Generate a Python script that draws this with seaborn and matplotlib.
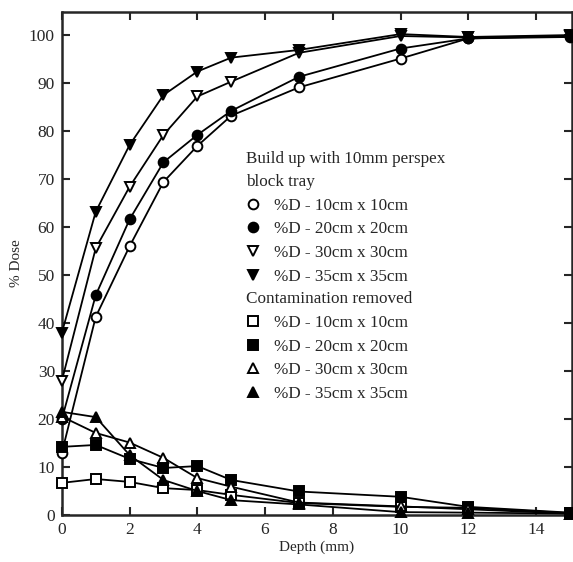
import matplotlib
matplotlib.use("Agg")
import matplotlib.pyplot as plt
import seaborn as sns

# depth (mm) at which doses were measured
depth = [0, 1, 2, 3, 4, 5, 7, 10, 12, 15]

# build up with 10mm perspex block tray
bu_10 = [13, 41.3, 56, 69.4, 76.9, 83.2, 89.1, 95.1, 99.3, 99.6]
bu_20 = [20, 45.8, 61.6, 73.5, 79.2, 84.2, 91.3, 97.2, 99.3, 99.8]
bu_30 = [28, 55.6, 68.4, 79.2, 87.2, 90.3, 96.3, 99.8, 99.5, 99.8]
bu_35 = [38, 63.2, 77.1, 87.5, 92.4, 95.3, 96.9, 100.2, 99.6, 100]

# contamination removed
cr_10 = [6.7, 7.5, 6.9, 5.6, 5.2, 4.2, 2.5, 1.7, 1.5, 0.4]
cr_20 = [14.2, 14.6, 11.7, 9.8, 10.2, 7.3, 4.9, 3.8, 1.7, 0.5]
cr_30 = [20.5, 17.1, 15.1, 11.9, 7.7, 5.9, 2.6, 1.8, 1.2, 0.3]
cr_35 = [21.5, 20.4, 12.5, 7.3, 5.0, 3.1, 2.2, 0.6, 0.5, 0.3]

sizes = ["%D - 10cm x 10cm", "%D - 20cm x 20cm",
         "%D - 30cm x 30cm", "%D - 35cm x 35cm"]

sns.set_style("ticks")
plt.rcParams["font.family"] = ["Liberation Serif", "DejaVu Serif"]

fig = plt.figure(figsize=(5.73, 5.62), dpi=100)
ax = fig.add_axes([0.108, 0.0836, 0.89, 0.895])

buildup = [(bu_10, "o", "white"), (bu_20, "o", "black"),
           (bu_30, "v", "white"), (bu_35, "v", "black")]
contam = [(cr_10, "s", "white"), (cr_20, "s", "black"),
          (cr_30, "^", "white"), (cr_35, "^", "black")]


def draw(group):
    handles = []
    for vals, m, fc in group:
        sns.lineplot(x=depth, y=vals, ax=ax, color="black", lw=1.3,
                     marker=m, markersize=7, markerfacecolor=fc,
                     markeredgecolor="black", markeredgewidth=1.4,
                     clip_on=False, zorder=3)
        handles.append(ax.lines[-1])
    return handles


h1 = draw(buildup)
h2 = draw(contam)

ax.set_xlim(0, 15.06)
ax.set_ylim(0, 104.8)
ax.set_xticks(range(0, 15, 2))
ax.set_yticks(range(0, 101, 10))
ax.set_xlabel("Depth (mm)", fontsize=11, labelpad=2)
ax.set_ylabel("% Dose", fontsize=11, labelpad=4)
ax.tick_params(direction="in", top=True, right=True, length=6, width=1.5,
               labelsize=12.5, pad=5)
for sp in ax.spines.values():
    sp.set_linewidth(1.8)

common = dict(loc="upper left", frameon=False, fontsize=12.3,
              title_fontsize=12.3, alignment="left", handlelength=0.8,
              handletextpad=0.8, labelspacing=0.45, borderpad=0,
              borderaxespad=0)
leg1 = ax.legend(h1, sizes, title="Build up with 10mm perspex\nblock tray",
                 bbox_to_anchor=(0.362, 0.723), **common)
leg1.get_title().set_linespacing(1.55)
for h in leg1.legend_handles:
    h.set_linestyle("none")
ax.add_artist(leg1)
leg2 = ax.legend(h2, sizes, title="Contamination removed",
                 bbox_to_anchor=(0.362, 0.445), **common)
for h in leg2.legend_handles:
    h.set_linestyle("none")

fig.savefig("out.png", dpi=100, facecolor="white")
